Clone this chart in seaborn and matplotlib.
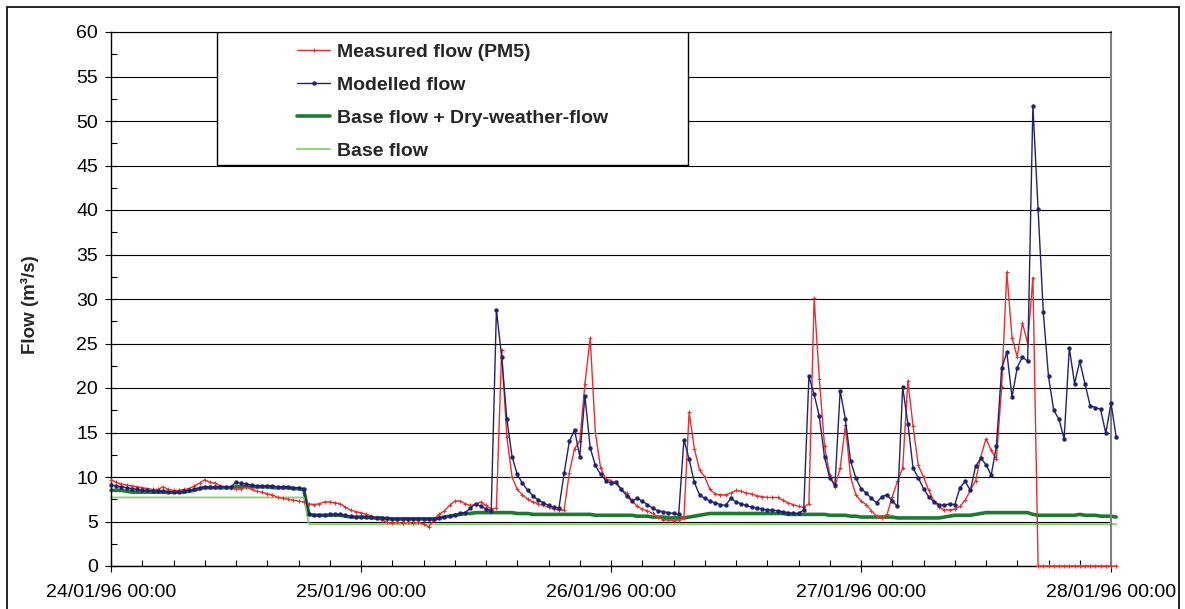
import numpy as np
import pandas as pd
import matplotlib
matplotlib.use("Agg")
import matplotlib.pyplot as plt
import matplotlib.dates as mdates
from matplotlib.ticker import MultipleLocator
from matplotlib.patches import Rectangle
import seaborn as sns

# ---------------- data (30-minute steps from 24/01/96 00:00) ----------------
start_time = "1996-01-24 00:00"
n_steps = 194

measured_d1 = [9.7, 9.4, 9.2, 9.1, 9.0, 8.9, 8.8, 8.7, 8.6, 8.6,
               8.9, 8.6, 8.5, 8.5, 8.6, 8.7, 9.0, 9.3, 9.7, 9.4,
               9.3, 9.0, 8.9, 8.8, 8.6, 8.7, 8.9, 8.6, 8.4, 8.3,
               8.1, 8.0, 7.7, 7.6, 7.5, 7.4, 7.3, 7.2, 7.0, 6.9,
               7.0, 7.2, 7.2, 7.1, 7.0, 6.6, 6.3, 6.1]
measured_d2 = [6.0, 5.8, 5.6, 5.5, 5.2, 4.9, 4.8, 4.9, 4.8, 4.9,
               4.8, 4.9, 4.7, 4.4, 5.2, 5.8, 6.2, 6.8, 7.3, 7.3,
               7.0, 6.8, 6.9, 7.2, 6.8, 6.4, 6.5, 24.3, 14.5, 10.0,
               8.6, 8.0, 7.5, 7.2, 7.0, 6.8, 6.6, 6.4, 6.3, 6.3,
               10.5, 13.2, 14.0, 20.5, 25.6, 15.0, 11.0, 9.8]
measured_d3 = [9.6, 9.3, 8.5, 8.2, 7.4, 6.7, 6.4, 6.2, 5.9, 5.5,
               5.2, 5.2, 5.1, 5.2, 5.4, 17.3, 13.2, 10.8, 10.0, 8.6,
               8.1, 8.0, 8.0, 8.2, 8.5, 8.4, 8.2, 8.1, 7.9, 7.8,
               7.7, 7.7, 7.7, 7.4, 7.1, 6.9, 6.7, 6.6, 7.0, 30.1,
               21.0, 13.5, 10.2, 8.9, 11.0, 15.8, 10.0, 8.0]
measured_d4 = [7.3, 6.9, 6.2, 5.6, 5.4, 5.8, 7.8, 9.5, 11.0, 20.8,
               15.7, 11.3, 10.0, 8.5, 7.3, 6.6, 6.3, 6.3, 6.4, 6.7,
               7.4, 8.5, 9.6, 12.3, 14.3, 13.0, 12.0, 20.1, 33.0, 25.6,
               23.5, 27.3, 25.0, 32.4, 0.0, 0.0, 0.0, 0.0, 0.0, 0.0,
               0.0, 0.0, 0.0, 0.0, 0.0, 0.0, 0.0, 0.0, 0.0, 0.0]

modelled_d1 = [9.1, 9.0, 8.9, 8.8, 8.7, 8.6, 8.5, 8.5, 8.4, 8.4,
               8.4, 8.3, 8.3, 8.3, 8.4, 8.5, 8.6, 8.8, 8.9, 8.9,
               8.9, 8.9, 8.9, 8.9, 9.4, 9.3, 9.2, 9.1, 9.0, 9.0,
               9.0, 9.0, 8.9, 8.9, 8.9, 8.8, 8.8, 8.6, 5.8, 5.7,
               5.7, 5.7, 5.8, 5.8, 5.8, 5.7, 5.6, 5.5]
modelled_d2 = [5.5, 5.5, 5.5, 5.4, 5.4, 5.4, 5.3, 5.3, 5.3, 5.3,
               5.3, 5.3, 5.3, 5.3, 5.3, 5.4, 5.5, 5.6, 5.7, 5.9,
               6.0, 6.5, 7.0, 6.7, 6.4, 6.2, 28.8, 23.5, 16.5, 12.3,
               10.3, 9.3, 8.5, 7.9, 7.4, 7.1, 6.8, 6.6, 6.5, 10.4,
               14.0, 15.3, 12.3, 19.1, 13.3, 11.3, 10.3, 9.6]
modelled_d3 = [9.3, 9.4, 8.6, 7.9, 7.3, 7.6, 7.3, 6.9, 6.5, 6.2,
               6.1, 6.0, 5.9, 5.8, 14.2, 12.0, 9.4, 8.0, 7.6, 7.3,
               7.1, 6.9, 6.8, 7.6, 7.2, 7.0, 6.8, 6.6, 6.5, 6.4,
               6.3, 6.3, 6.2, 6.1, 6.0, 5.9, 5.9, 6.3, 21.3, 19.3,
               16.8, 12.2, 9.9, 9.1, 19.7, 16.5, 11.8, 9.9]
modelled_d4 = [8.7, 8.2, 7.6, 7.1, 7.8, 8.0, 7.3, 6.7, 20.1, 16.0,
               11.0, 9.9, 8.7, 7.8, 7.2, 6.9, 6.8, 7.0, 6.9, 8.8,
               9.5, 8.5, 11.2, 12.1, 11.4, 10.2, 13.5, 22.2, 24.0, 19.0,
               22.3, 23.5, 23.0, 51.7, 40.1, 28.5, 21.3, 17.5, 16.5, 14.3,
               24.5, 20.5, 23.0, 20.5, 18.0, 17.8, 17.6, 14.9, 18.3, 14.5]

dwf_d1 = [8.5, 8.5, 8.5, 8.4, 8.3, 8.3, 8.3, 8.3, 8.3, 8.3,
          8.3, 8.3, 8.3, 8.3, 8.3, 8.4, 8.5, 8.7, 8.8, 8.8,
          8.8, 8.8, 8.8, 8.8, 8.9, 8.9, 8.9, 8.9, 8.9, 8.9,
          8.9, 8.8, 8.8, 8.8, 8.8, 8.7, 8.7, 8.6, 5.8, 5.7,
          5.7, 5.7, 5.7, 5.7, 5.7, 5.6, 5.5, 5.5]
dwf_d2 = [5.5, 5.5, 5.4, 5.4, 5.4, 5.3, 5.3, 5.3, 5.3, 5.3,
          5.3, 5.3, 5.3, 5.3, 5.3, 5.4, 5.5, 5.6, 5.7, 5.8,
          5.9, 5.9, 6.0, 6.0, 6.0, 6.0, 6.0, 6.0, 6.0, 6.0,
          5.9, 5.9, 5.9, 5.8, 5.8, 5.8, 5.8, 5.8, 5.8, 5.8,
          5.8, 5.8, 5.8, 5.8, 5.8, 5.7, 5.7, 5.7]
dwf_d3 = [5.7, 5.7, 5.7, 5.7, 5.7, 5.6, 5.6, 5.6, 5.5, 5.5,
          5.5, 5.4, 5.4, 5.4, 5.4, 5.5, 5.6, 5.7, 5.8, 5.9,
          5.9, 5.9, 5.9, 5.9, 5.9, 5.9, 5.9, 5.9, 5.9, 5.9,
          5.9, 5.9, 5.9, 5.9, 5.8, 5.8, 5.8, 5.8, 5.8, 5.8,
          5.8, 5.8, 5.7, 5.7, 5.7, 5.7, 5.6, 5.6]
dwf_d4 = [5.5, 5.5, 5.5, 5.5, 5.5, 5.5, 5.5, 5.4, 5.4, 5.4,
          5.4, 5.4, 5.4, 5.4, 5.4, 5.4, 5.5, 5.6, 5.7, 5.7,
          5.7, 5.7, 5.8, 5.9, 6.0, 6.0, 6.0, 6.0, 6.0, 6.0,
          6.0, 6.0, 6.0, 5.8, 5.7, 5.7, 5.7, 5.7, 5.7, 5.7,
          5.7, 5.7, 5.8, 5.7, 5.7, 5.7, 5.6, 5.6, 5.6, 5.5]

base_times = ["1996-01-24 00:00", "1996-01-24 18:30", "1996-01-24 19:00", "1996-01-28 00:30"]
base_values = [7.7, 7.7, 4.7, 4.7]

series_labels = ["Measured flow (PM5)", "Modelled flow",
                 "Base flow + Dry-weather-flow", "Base flow"]
x_tick_format = "%d/%m/%y %H:%M"
y_label = "Flow (m³/s)"

# ---------------- frames ----------------
times = pd.date_range(start_time, periods=n_steps, freq="30min")
df = pd.DataFrame({
    "time": times,
    "measured": measured_d1 + measured_d2 + measured_d3 + measured_d4,
    "modelled": modelled_d1 + modelled_d2 + modelled_d3 + modelled_d4,
    "dwf": dwf_d1 + dwf_d2 + dwf_d3 + dwf_d4,
})
base_df = pd.DataFrame({"time": pd.to_datetime(base_times), "base": base_values})

# ---------------- style ----------------
sns.set_style("ticks")
plt.rcParams['font.family'] = ['Liberation Sans', 'DejaVu Sans']

W, H = 1185, 609
fig = plt.figure(figsize=(W / 100, H / 100), dpi=100)
ax = fig.add_axes([111 / W, 1 - 566 / H, 1000 / W, 534 / H])

red = "#f22a2a"
navy = "#1f2270"
dgreen = "#1c7a33"
lgreen = "#86cf72"

sns.lineplot(data=df, x="time", y="dwf", ax=ax, color=dgreen, lw=2.6,
             estimator=None, sort=False, label=series_labels[2], zorder=2,
             clip_on=False)
sns.lineplot(data=base_df, x="time", y="base", ax=ax, color=lgreen, lw=1.3,
             estimator=None, sort=False, label=series_labels[3], zorder=2,
             clip_on=False)
sns.lineplot(data=df, x="time", y="measured", ax=ax, color=red, lw=1.0,
             marker="+", markersize=2.5, markeredgewidth=0.7, markeredgecolor=red,
             estimator=None, sort=False, label=series_labels[0], zorder=3,
             clip_on=False)
sns.lineplot(data=df, x="time", y="modelled", ax=ax, color=navy, lw=1.0,
             marker="o", markersize=2.8, markeredgewidth=0.3,
             markeredgecolor=navy, markerfacecolor=navy,
             estimator=None, sort=False, label=series_labels[1], zorder=4,
             clip_on=False)

ax.set_xlim(pd.Timestamp("1996-01-24 00:00"), pd.Timestamp("1996-01-28 00:00"))
ax.set_ylim(0, 60)
ax.yaxis.set_major_locator(MultipleLocator(5))
ax.yaxis.set_minor_locator(MultipleLocator(2.5))
ax.xaxis.set_major_locator(mdates.DayLocator())
ax.xaxis.set_minor_locator(mdates.HourLocator(byhour=range(0, 24, 3)))
ax.xaxis.set_major_formatter(mdates.DateFormatter(x_tick_format))

ax.tick_params(which="major", direction="inout", length=8.6, width=0.8,
               labelsize=14, colors="black")
ax.tick_params(which="minor", direction="in", length=4.3, width=0.8, colors="black")
ax.tick_params(axis="x", which="major", pad=9)
ax.tick_params(axis="y", which="major", pad=5)

ax.yaxis.grid(True, which="major", color="black", lw=0.8)
ax.xaxis.grid(False)
ax.set_axisbelow(True)

for s in ["left", "bottom"]:
    ax.spines[s].set_color("black")
    ax.spines[s].set_linewidth(1.0)
ax.spines["top"].set_color("black")
ax.spines["top"].set_linewidth(0.8)
ax.spines["right"].set_color("#808080")
ax.spines["right"].set_linewidth(1.5)

ax.set_xlabel("")
ax.set_ylabel(y_label, fontsize=13.5, fontweight="bold")
ax.yaxis.set_label_coords(-0.072, 0.49)

# legend box + legend
ax.add_patch(Rectangle((0.106, 0.751), 0.471, 0.249, transform=ax.transAxes,
                       facecolor="white", edgecolor="black", lw=1.0, zorder=4.5))
handles, labels = ax.get_legend_handles_labels()
order = [labels.index(l) for l in series_labels]
leg = ax.legend([handles[i] for i in order], [labels[i] for i in order],
                loc="upper left", bbox_to_anchor=(0.186, 0.979),
                frameon=False, borderpad=0, borderaxespad=0,
                handlelength=1.7, handletextpad=0.36, labelspacing=0.79,
                prop={"weight": "bold", "size": 14})
leg.set_zorder(6)

# outer chart border
fig.add_artist(Rectangle((7 / W, -0.02), (1179 - 7) / W, 1 - 7 / H + 0.02,
                         transform=fig.transFigure, fill=False,
                         edgecolor="black", lw=1.2))

fig.savefig("out.png", dpi=100)
